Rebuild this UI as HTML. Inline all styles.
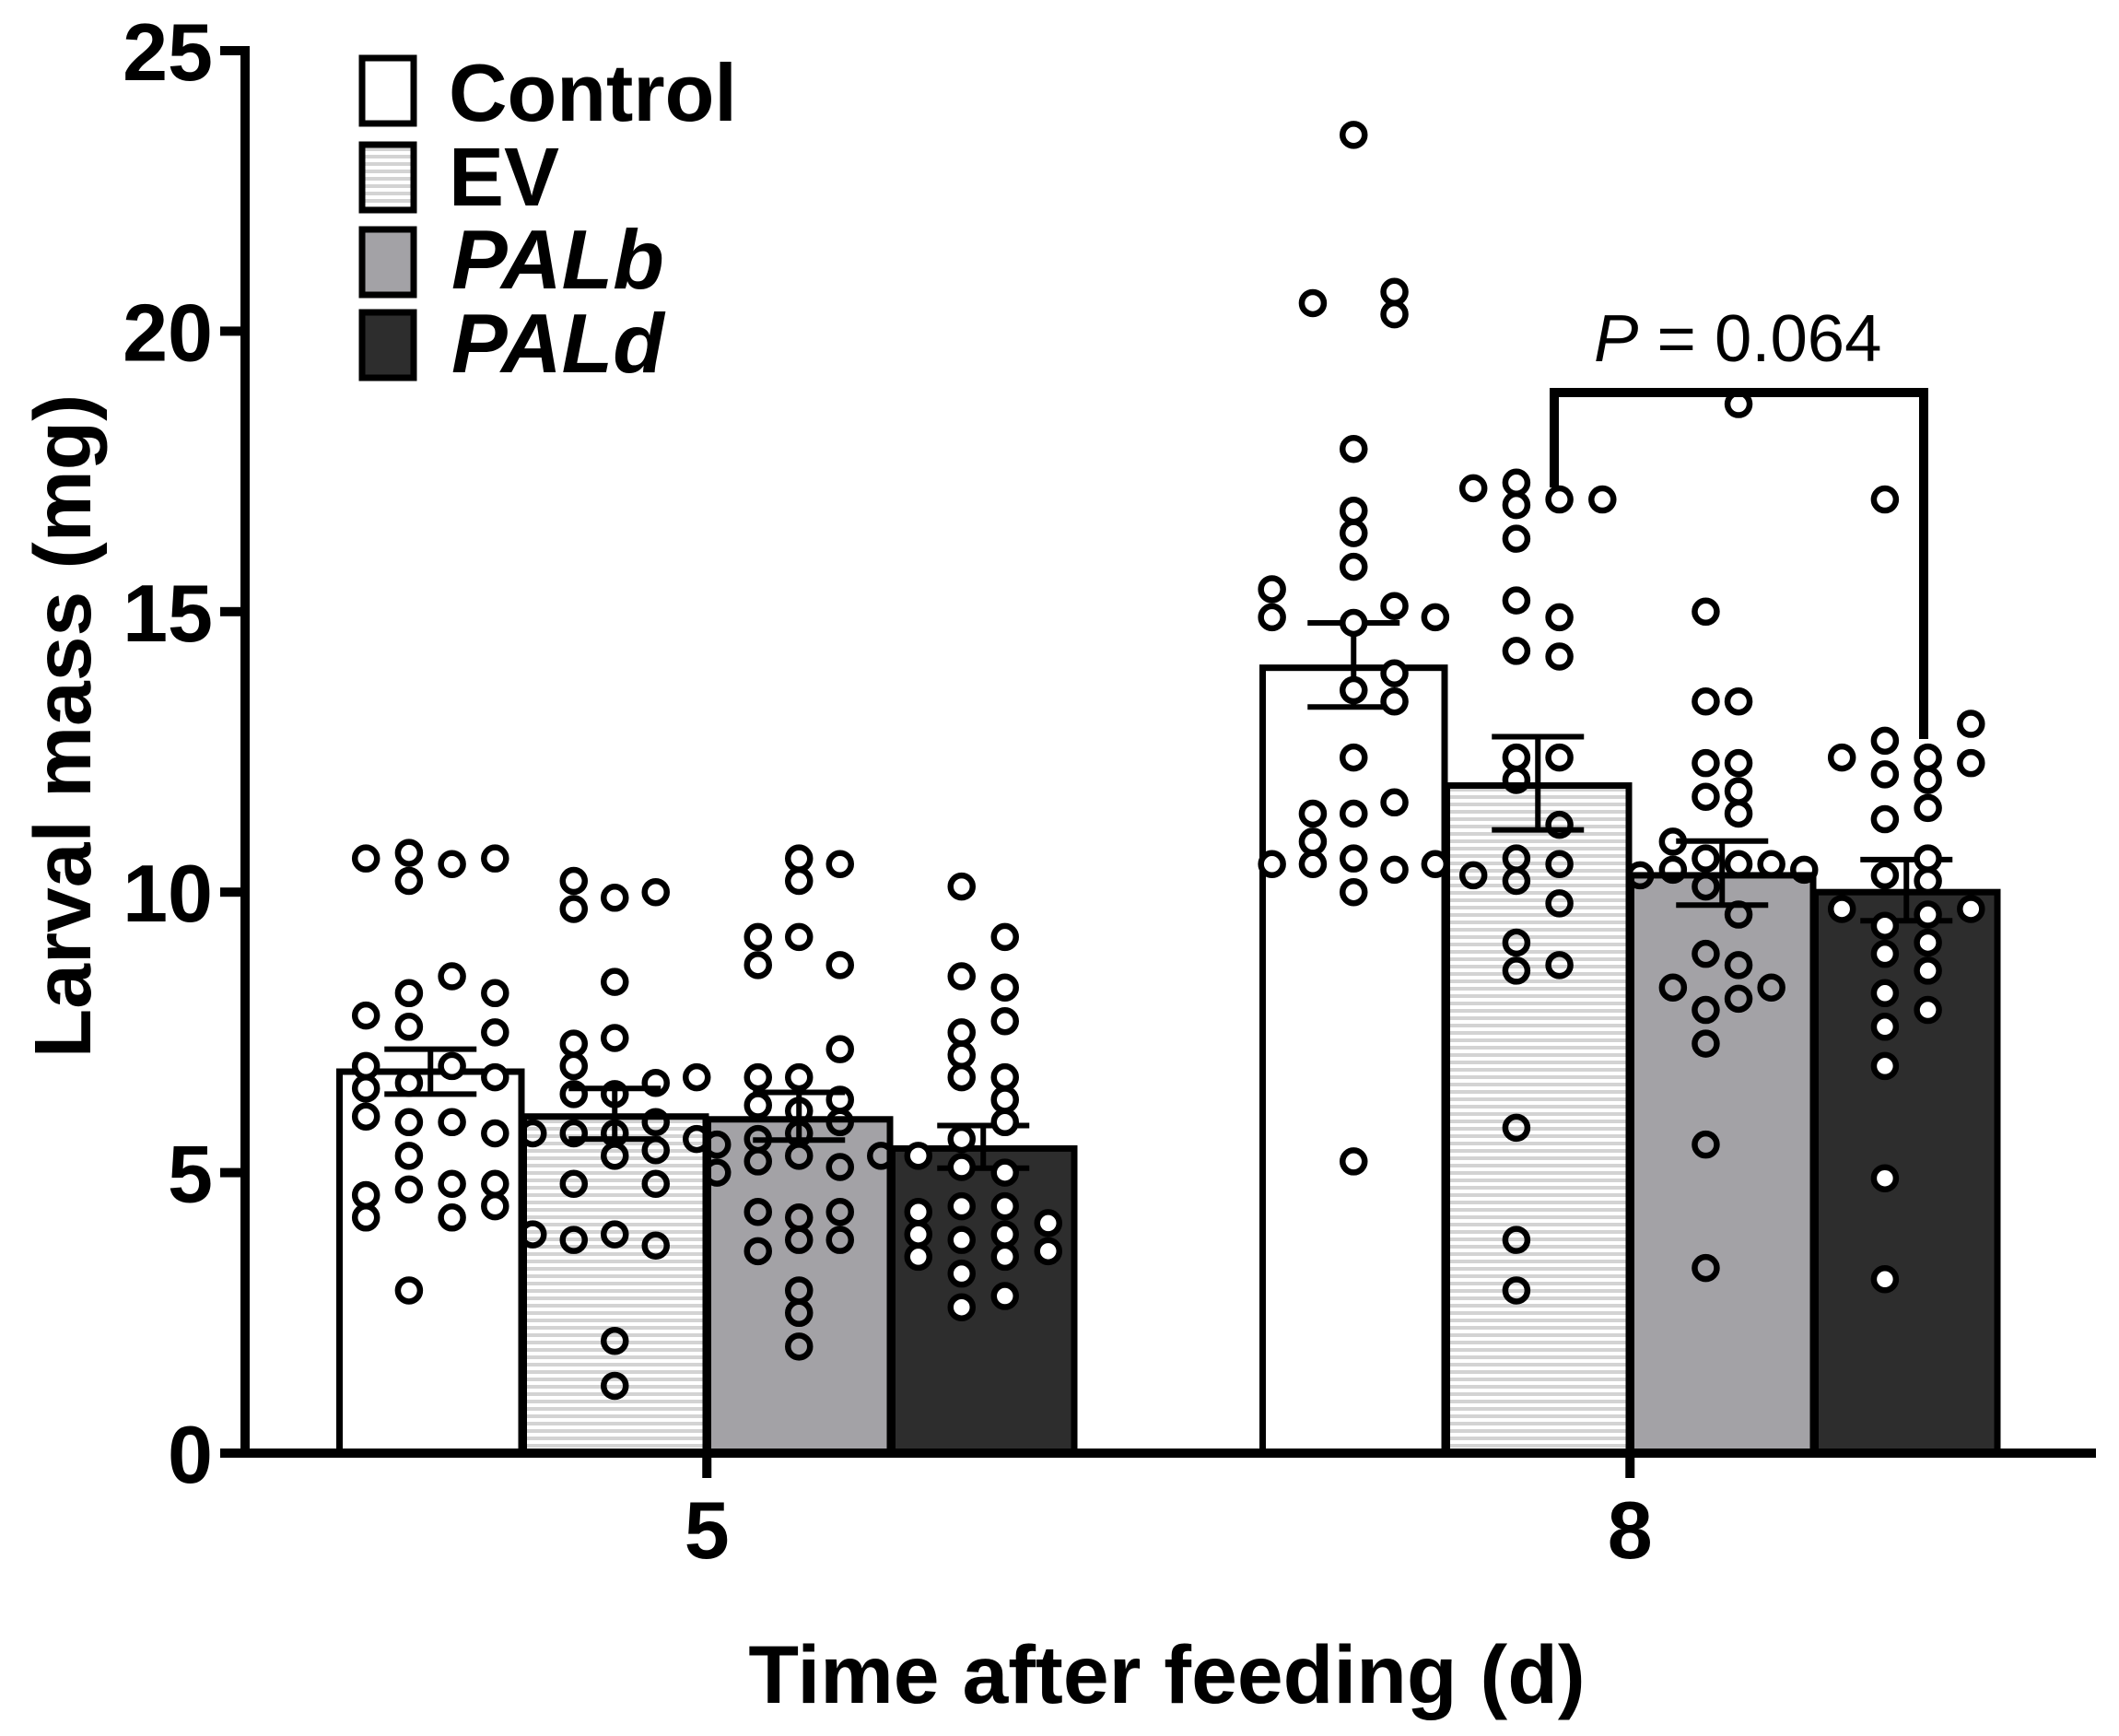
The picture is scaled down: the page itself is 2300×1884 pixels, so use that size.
<!DOCTYPE html>
<html lang="en">
<head>
<meta charset="utf-8">
<title>Larval mass chart</title>
<style>
html,body{margin:0;padding:0;background:#fff;}
svg{display:block;}
text{font-family:"Liberation Sans",Arial,sans-serif;fill:#000;}
</style>
</head>
<body>
<svg id="chart" xmlns="http://www.w3.org/2000/svg" width="2300" height="1884" viewBox="0 0 2300 1884">
  <defs>
    <pattern id="stripes" patternUnits="userSpaceOnUse" x="0" y="7" width="8" height="8">
      <rect x="0" y="0" width="8" height="8" fill="#ffffff"/>
      <rect x="0" y="0" width="8" height="4" fill="#d3d3d3"/>
    </pattern>
    <pattern id="legend-stripes" patternUnits="userSpaceOnUse" x="0" y="0" width="8" height="8">
      <rect x="0" y="0" width="8" height="8" fill="#ffffff"/>
      <rect x="0" y="0" width="8" height="4" fill="#d3d3d3"/>
    </pattern>
  </defs>
  <rect x="0" y="0" width="2300" height="1884" fill="#ffffff"/>
  <g id="bars"></g>
  <g id="marks"></g>
  <g id="axes"></g>

  <g>
    <path d="M1687 529 V426 H2088 V802" fill="none" stroke="#000" stroke-width="10"/>
    <text x="1730" y="392" font-size="72.5"><tspan font-style="italic">P</tspan> = 0.064</text>
  </g>

  <g>
    <g>
      <rect x="393" y="63" width="56" height="71" fill="#ffffff" stroke="#000" stroke-width="7"/>
      <text x="487" y="131" font-size="88" font-weight="700">Control</text>
    </g>
    <g>
      <rect x="393" y="157" width="56" height="71" fill="url(#legend-stripes)" stroke="#000" stroke-width="7"/>
      <text x="487" y="223" font-size="90" font-weight="700">EV</text>
    </g>
    <g>
      <rect x="393" y="249" width="56" height="71" fill="#a3a2a6" stroke="#000" stroke-width="7"/>
      <text x="490" y="313" font-size="91" font-weight="700" font-style="italic">PALb</text>
    </g>
    <g>
      <rect x="393" y="339" width="56" height="71" fill="#2d2d2d" stroke="#000" stroke-width="7"/>
      <text x="490" y="404" font-size="91" font-weight="700" font-style="italic">PALd</text>
    </g>
  </g>

  <text transform="translate(98 788) rotate(-90)" text-anchor="middle" font-size="87.6" font-weight="700">Larval mass (mg)</text>
  <text x="1266.5" y="1848" text-anchor="middle" font-size="89.5" font-weight="700">Time after feeding (d)</text>
</svg>

<script>
// ---- chart data ----
const yTicks = [0, 5, 10, 15, 20, 25];
const timeCategories = ['5', '8'];
const seriesNames = ['control', 'ev', 'palb', 'pald'];

const day5Means = [6.8, 6.0, 5.95, 5.43];
const day5ErrorHigh = [7.2, 6.5, 6.43, 5.84];
const day5ErrorLow = [6.4, 5.6, 5.58, 5.08];

const day8Means = [14.0, 11.9, 10.3, 10.0];
const day8ErrorHigh = [14.8, 12.77, 10.91, 10.58];
const day8ErrorLow = [13.3, 11.11, 9.77, 9.49];

// Each swarm: [column slot relative to bar centre, [values in that column]]
const day5Control = [
  [-1.5, [10.6, 7.8, 6.9, 6.5, 6.0, 4.6, 4.2]],
  [-0.5, [10.7, 10.2, 8.2, 7.6, 6.6, 5.9, 5.3, 4.7, 2.9]],
  [0.5, [10.5, 8.5, 6.9, 5.9, 4.8, 4.2]],
  [1.5, [10.6, 8.2, 7.5, 6.7, 5.7, 4.8, 4.4]]
];
const day5Ev = [
  [-2, [5.7, 3.9]],
  [-1, [10.2, 9.7, 7.3, 6.9, 6.4, 5.7, 4.8, 3.8]],
  [0, [9.9, 8.4, 7.4, 6.4, 5.7, 5.3, 3.9, 2.0, 1.2]],
  [1, [10.0, 6.6, 5.9, 5.4, 4.8, 3.7]],
  [2, [6.7, 5.6]]
];
const day5Palb = [
  [-2, [5.5, 5.0]],
  [-1, [9.2, 8.7, 6.7, 6.2, 5.6, 5.2, 4.3, 3.6]],
  [0, [10.6, 10.2, 9.2, 6.7, 6.1, 5.7, 5.3, 4.2, 3.8, 2.9, 2.5, 1.9]],
  [1, [10.5, 8.7, 7.2, 6.3, 5.9, 5.1, 4.3, 3.8]],
  [2, [5.3]]
];
const day5Pald = [
  [-1.5, [5.3, 4.3, 3.9, 3.5]],
  [-0.5, [10.1, 8.5, 7.5, 7.1, 6.7, 5.6, 5.1, 4.4, 3.8, 3.2, 2.6]],
  [0.5, [9.2, 8.3, 7.7, 6.7, 6.3, 5.9, 5.0, 4.4, 3.9, 3.5, 2.8]],
  [1.5, [4.1, 3.6]]
];
const day8Control = [
  [-2, [15.4, 14.9, 10.5]],
  [-1, [20.5, 11.4, 10.9, 10.5]],
  [0, [23.5, 17.9, 16.8, 16.4, 15.8, 14.8, 13.6, 12.4, 11.4, 10.6, 10.0, 5.2]],
  [1, [20.7, 20.3, 15.1, 13.9, 13.4, 11.6, 10.4]],
  [2, [14.9, 10.5]]
];
const day8Ev = [
  [-1.5, [17.2, 10.3]],
  [-0.5, [17.3, 16.9, 16.3, 15.2, 14.3, 12.4, 12.0, 10.6, 10.2, 9.1, 8.6, 5.8, 3.8, 2.9]],
  [0.5, [17.0, 14.9, 14.2, 12.4, 11.2, 10.5, 9.8, 8.7]],
  [1.5, [17.0]]
];
const day8Palb = [
  [-2.5, [10.3]],
  [-1.5, [10.9, 10.4, 8.3]],
  [-0.5, [15.0, 13.4, 12.3, 11.7, 10.6, 10.1, 8.9, 7.9, 7.3, 5.5, 3.3]],
  [0.5, [18.7, 13.4, 12.3, 11.8, 11.4, 10.5, 9.6, 8.7, 8.1]],
  [1.5, [10.5, 8.3]],
  [2.5, [10.4]]
];
const day8Pald = [
  [-1.5, [12.4, 9.7]],
  [-0.5, [17.0, 12.7, 12.1, 11.3, 10.3, 9.4, 8.9, 8.2, 7.6, 6.9, 4.9, 3.1]],
  [0.5, [12.4, 12.0, 11.5, 10.6, 10.2, 9.6, 9.1, 8.6, 7.9]],
  [1.5, [13.0, 12.3, 9.7]]
];

// ---- scales and drawing ----
const SVG_NS = 'http://www.w3.org/2000/svg';
const Y0 = 1577, Y_PER_UNIT = 60.88;
const yScale = function (v) { return Y0 - v * Y_PER_UNIT; };
const groupOrigin = function (g) { return 368.5 + g * 1002; };
const barLeft = function (g, s) { return groupOrigin(g) + s * 200; };
const BAR_W = 197.5;
const barCenter = function (g, s) { return barLeft(g, s) + BAR_W / 2; };
const tickX = function (g) { return barLeft(g, 1) + BAR_W + 1.25; };

const barFills = ['#ffffff', 'url(#stripes)', '#a3a2a6', '#2d2d2d'];
const markFills = ['#ffffff', 'none', 'none', '#ffffff'];
const slotSteps = [[46.7, 44.5, 44.5, 47], [44.3, 46.7, 35.6, 46.7]];

const barsLayer = document.getElementById('bars');
const marksLayer = document.getElementById('marks');
const axesLayer = document.getElementById('axes');

function make(tag, attrs, parent) {
  const el = document.createElementNS(SVG_NS, tag);
  for (const k in attrs) el.setAttribute(k, attrs[k]);
  parent.appendChild(el);
  return el;
}

function drawBar(g, s, mean) {
  const y = yScale(mean);
  const bar = make('rect', { x: barLeft(g, s), y: y, width: BAR_W, height: Y0 - y, fill: barFills[s], stroke: '#000', 'stroke-width': 7 }, barsLayer);
  
  
}

function drawError(g, s, hi, lo) {
  const cx = barCenter(g, s);
  const err = make('path', {
    d: 'M' + (cx - 50) + ' ' + yScale(hi) + ' H' + (cx + 50) +
       ' M' + cx + ' ' + yScale(hi) + ' V' + yScale(lo) +
       ' M' + (cx - 50) + ' ' + yScale(lo) + ' H' + (cx + 50),
    fill: 'none', stroke: '#000', 'stroke-width': 6
  }, marksLayer);
  
  
}

function drawSwarm(g, s, swarm) {
  const cx = barCenter(g, s);
  const step = slotSteps[g][s];
  swarm.forEach(function (column) {
    column[1].forEach(function (v) {
      const dot = make('circle', { cx: cx + column[0] * step, cy: yScale(v), r: 12, fill: markFills[s], stroke: '#000', 'stroke-width': 6.5 }, marksLayer);
      
      
    });
  });
}

const allMeans = [day5Means, day8Means];
const allHigh = [day5ErrorHigh, day8ErrorHigh];
const allLow = [day5ErrorLow, day8ErrorLow];
const allSwarms = [[day5Control, day5Ev, day5Palb, day5Pald], [day8Control, day8Ev, day8Palb, day8Pald]];

timeCategories.forEach(function (_, g) {
  seriesNames.forEach(function (_, s) { drawBar(g, s, allMeans[g][s]); });
});
timeCategories.forEach(function (_, g) {
  seriesNames.forEach(function (_, s) {
    // control and PALd markers sit on top of their error bars; EV and PALb under them
    if (s === 0 || s === 3) {
      drawError(g, s, allHigh[g][s], allLow[g][s]);
      drawSwarm(g, s, allSwarms[g][s]);
    } else {
      drawSwarm(g, s, allSwarms[g][s]);
      drawError(g, s, allHigh[g][s], allLow[g][s]);
    }
  });
});

// axes
const yAxisLine = make('rect', { x: 261, y: 50, width: 10, height: 1532, fill: '#000' }, axesLayer);


const xAxisLine = make('rect', { x: 239, y: 1572, width: 2036, height: 10, fill: '#000' }, axesLayer);



yTicks.forEach(function (t) {
  const y = yScale(t);
  const tick = make('rect', { x: 239, y: y - 5, width: 25, height: 10, fill: '#000' }, axesLayer);
  
  
  const label = make('text', { x: 231, y: y + 32, 'text-anchor': 'end', 'font-size': 88, 'font-weight': 700 }, axesLayer);
  
  
  label.textContent = String(t);
});

timeCategories.forEach(function (c, g) {
  const x = tickX(g);
  const tick = make('rect', { x: x - 5, y: 1578, width: 10, height: 26, fill: '#000' }, axesLayer);
  
  
  const label = make('text', { x: x, y: 1691, 'text-anchor': 'middle', 'font-size': 88, 'font-weight': 700 }, axesLayer);
  
  
  label.textContent = c;
});
</script>
</body>
</html>
